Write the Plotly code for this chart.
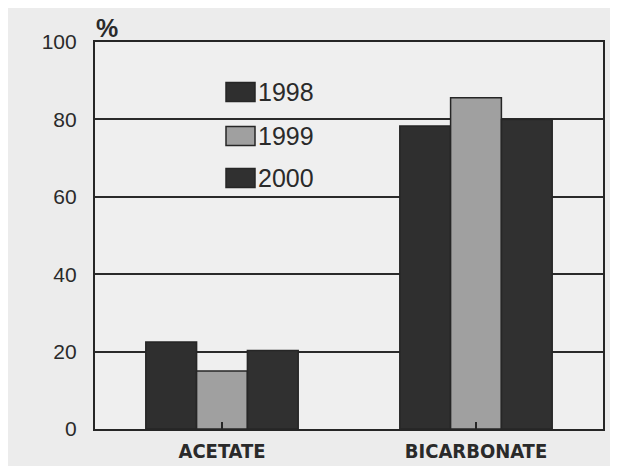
import plotly.graph_objects as go

categories = ["ACETATE", "BICARBONATE"]
years = ["1998", "1999", "2000"]
values_1998 = [22.5, 78.3]
values_1999 = [15.0, 85.6]
values_2000 = [20.3, 80.0]
series = [values_1998, values_1999, values_2000]
y_ticks = [0, 20, 40, 60, 80, 100]

fills = ["#2f2f2f", "#a0a0a0", "#303030"]
ink = "#262626"
plot_bg = "#efefef"

fig = go.Figure()
for name, vals, col in zip(years, series, fills):
    fig.add_trace(go.Bar(
        x=categories, y=vals, name=name,
        marker=dict(color=col, line=dict(color=ink, width=1.5)),
        showlegend=False,
    ))

# page offset of the figure inside the browser (default body margin)
OFF = 8
FW, FH = 618 - OFF, 466 - OFF
L, R, T, B = 95, 603, 42, 429  # plot area in page pixels
W, H = R - L, B - T
def px(xp):
    return (xp - L) / W
def py(yp):
    return (B - yp) / H

shapes = []
shapes.append(dict(type="rect", xref="paper", yref="paper", x0=px(218), x1=px(343), y0=py(205), y1=py(66),
                   fillcolor=plot_bg, line=dict(width=0), layer="between"))
annotations = []
centers = [92, 136, 178]
for name, col, cy in zip(years, fills, centers):
    shapes.append(dict(type="rect", xref="paper", yref="paper", x0=px(226), x1=px(255),
                       y0=py(cy + 9.5), y1=py(cy - 9.5), fillcolor=col,
                       line=dict(color=ink, width=1.5), layer="above"))
    annotations.append(dict(text=name, xref="paper", yref="paper", x=px(256), y=py(cy),
                            xanchor="left", yanchor="middle", showarrow=False,
                            font=dict(family="Liberation Sans, Arial", size=25, color="#2a2a2a")))
annotations.append(dict(text="<b>%</b>", xref="paper", yref="paper", x=px(107), y=py(28),
                        xanchor="center", yanchor="middle", showarrow=False,
                        font=dict(family="Liberation Sans, Arial", size=25, color="#2a2a2a")))

fig.update_layout(
    width=FW, height=FH,
    margin=dict(l=L - OFF, r=FW - (R - OFF), t=T - OFF, b=FH - (B - OFF)),
    paper_bgcolor="#ececec",
    plot_bgcolor=plot_bg,
    barmode="group",
    bargap=0.40,
    bargroupgap=0,
    shapes=shapes,
    annotations=annotations,
    showlegend=False,
)
fig.update_yaxes(
    range=[0, 100], tickvals=y_ticks, ticktext=[str(v) for v in y_ticks],
    showgrid=True, gridcolor="#2a2a2a", gridwidth=1.6,
    showline=True, linecolor=ink, linewidth=2.2, mirror=True,
    zeroline=False, ticks="", ticklabelstandoff=12, automargin=False,
    tickfont=dict(family="Liberation Sans, Arial", size=21, color="#2a2a2a"),
)
fig.update_xaxes(
    showgrid=False, showline=True, linecolor=ink, linewidth=2.2, mirror=True,
    ticks="inside", ticklen=7, tickwidth=2, tickcolor=ink, ticklabelstandoff=3,
    automargin=False,
    tickfont=dict(family="DejaVu Sans Condensed, Liberation Sans Narrow", size=20,
                  color="#2a2a2a", weight="bold"),
)

fig.write_html("out.html")
